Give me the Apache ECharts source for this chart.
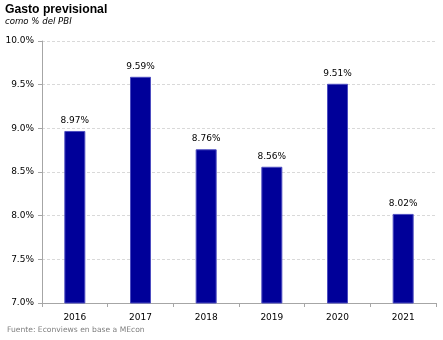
<!DOCTYPE html>
<html>
<head>
<meta charset="utf-8">
<script src="https://cdn.jsdelivr.net/npm/echarts@6/dist/echarts.min.js"></script>
<style>
html,body{margin:0;padding:0;background:#fff;}
#chart{width:443px;height:340px;}
</style>
</head>
<body>
<div id="chart"></div>
<script>
const years = ['2016', '2017', '2018', '2019', '2020', '2021'];
const gastoPct = [8.97, 9.59, 8.76, 8.56, 9.51, 8.02];
const yTicks = { min: 7.0, max: 10.0, step: 0.5 };

const font = 'DejaVu Sans, Verdana, sans-serif';
const titleFont = 'Liberation Sans, Arial, sans-serif';
const chart = echarts.init(document.getElementById('chart'), null, { renderer: 'canvas' });

chart.setOption({
  animation: false,
  backgroundColor: '#ffffff',
  title: [
    {
      text: 'Gasto previsional',
      left: 5, top: 4, padding: 0,
      textStyle: { fontFamily: titleFont, fontSize: 12.2, fontWeight: 'bold', color: '#000' }
    },
    {
      text: 'como % del PBI',
      left: 5, top: 17, padding: 0,
      textStyle: { fontFamily: font, fontSize: 8.6, fontStyle: 'italic', fontWeight: 'normal', color: '#000' }
    },
    {
      text: 'Fuente: Econviews en base a MEcon',
      left: 7, top: 326, padding: 0,
      textStyle: { fontFamily: font, fontSize: 7.6, fontWeight: 'normal', color: '#808080' }
    }
  ],
  grid: { left: 42, right: 7, top: 41, bottom: 37, containLabel: false },
  xAxis: {
    type: 'category',
    data: years,
    axisLine: { lineStyle: { color: '#a6a6a6', width: 1 } },
    axisTick: { show: true, alignWithLabel: false, length: 4, lineStyle: { color: '#a6a6a6' } },
    axisLabel: { fontFamily: font, fontSize: 9, color: '#000', margin: 10 }
  },
  yAxis: {
    type: 'value',
    min: yTicks.min, max: yTicks.max, interval: yTicks.step,
    axisLine: { show: true, lineStyle: { color: '#a6a6a6', width: 1 } },
    axisTick: { show: true, length: 4, lineStyle: { color: '#a6a6a6' } },
    axisLabel: {
      fontFamily: font, fontSize: 9, color: '#000', margin: 8,
      formatter: v => v.toFixed(1) + '%'
    },
    splitLine: { show: true, lineStyle: { color: '#d9d9d9', type: [3, 2], width: 1 } }
  },
  series: [{
    type: 'bar',
    data: gastoPct,
    barWidth: 21,
    itemStyle: { color: '#000099', borderColor: '#4d4dc0', borderWidth: 1 },
    label: {
      show: true, position: 'top', distance: 6,
      fontFamily: font, fontSize: 9, color: '#000',
      formatter: p => p.value.toFixed(2) + '%'
    }
  }]
});
</script>
</body>
</html>
